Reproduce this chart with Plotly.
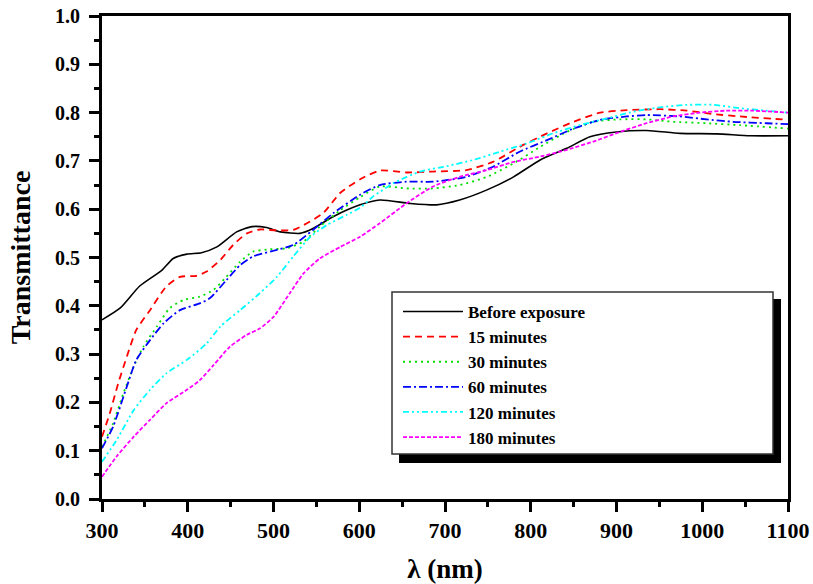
import plotly.graph_objects as go

# ---------------- data ----------------
wl_before = [300, 321, 344, 370, 383, 399, 416, 434, 457, 475, 492, 508, 531, 546, 570, 601,
             624, 659, 690, 717, 749, 780, 811, 842, 869, 900, 935, 974, 1017, 1056, 1100]
t_before = [0.371, 0.395, 0.441, 0.474, 0.498, 0.507, 0.510, 0.522, 0.553, 0.564, 0.562, 0.553,
            0.550, 0.560, 0.585, 0.609, 0.619, 0.612, 0.609, 0.619, 0.640, 0.667, 0.702, 0.726,
            0.750, 0.760, 0.763, 0.757, 0.756, 0.752, 0.752]

wl_15 = [300, 309, 319, 329, 340, 356, 375, 391, 410, 422, 438, 453, 469, 484, 504, 523, 539,
         558, 578, 601, 624, 655, 686, 725, 756, 787, 819, 850, 881, 912, 951, 982, 1013, 1044, 1100]
t_15 = [0.129, 0.177, 0.240, 0.295, 0.350, 0.391, 0.440, 0.460, 0.462, 0.471, 0.495, 0.526,
        0.550, 0.558, 0.556, 0.557, 0.571, 0.592, 0.634, 0.662, 0.680, 0.676, 0.678, 0.681,
        0.698, 0.729, 0.757, 0.781, 0.800, 0.805, 0.807, 0.804, 0.797, 0.792, 0.785]

wl_30 = [300, 313, 325, 337, 348, 364, 379, 395, 414, 430, 445, 461, 476, 496, 515, 535, 554,
         578, 601, 624, 655, 686, 717, 749, 780, 811, 842, 873, 904, 935, 966, 1005, 1044, 1100]
t_30 = [0.108, 0.157, 0.219, 0.274, 0.315, 0.357, 0.395, 0.412, 0.419, 0.433, 0.460, 0.491,
        0.512, 0.517, 0.519, 0.533, 0.564, 0.598, 0.625, 0.647, 0.643, 0.643, 0.650, 0.667,
        0.695, 0.729, 0.760, 0.781, 0.786, 0.786, 0.781, 0.778, 0.774, 0.767]

wl_60 = [300, 313, 329, 340, 356, 372, 391, 414, 426, 445, 461, 476, 500, 523, 546, 570, 601,
         624, 655, 686, 725, 756, 787, 819, 850, 881, 912, 935, 974, 1005, 1036, 1075, 1100]
t_60 = [0.105, 0.150, 0.233, 0.288, 0.329, 0.364, 0.391, 0.405, 0.416, 0.453, 0.484, 0.502,
        0.514, 0.526, 0.557, 0.592, 0.630, 0.650, 0.657, 0.657, 0.667, 0.688, 0.719, 0.743,
        0.767, 0.785, 0.792, 0.795, 0.792, 0.786, 0.781, 0.778, 0.776]

wl_120 = [300, 317, 337, 356, 375, 399, 422, 438, 461, 484, 504, 523, 543, 562, 585, 601, 616,
          640, 671, 702, 733, 764, 795, 826, 857, 889, 920, 951, 982, 1013, 1044, 1075, 1100]
t_120 = [0.077, 0.122, 0.184, 0.226, 0.260, 0.288, 0.322, 0.357, 0.391, 0.426, 0.460, 0.502,
         0.543, 0.567, 0.588, 0.603, 0.626, 0.654, 0.678, 0.689, 0.702, 0.719, 0.736, 0.757,
         0.774, 0.788, 0.802, 0.811, 0.816, 0.816, 0.809, 0.804, 0.800]

wl_180 = [300, 317, 337, 356, 375, 399, 414, 430, 449, 469, 484, 500, 519, 535, 554, 578, 601,
          624, 655, 686, 717, 749, 780, 811, 842, 873, 904, 935, 966, 997, 1028, 1059, 1100]
t_180 = [0.046, 0.088, 0.129, 0.164, 0.198, 0.226, 0.246, 0.277, 0.315, 0.340, 0.353, 0.377,
         0.426, 0.467, 0.498, 0.522, 0.543, 0.571, 0.612, 0.647, 0.667, 0.681, 0.698, 0.709,
         0.723, 0.740, 0.760, 0.778, 0.792, 0.800, 0.804, 0.804, 0.800]

names = ["Before exposure", "15 minutes", "30 minutes", "60 minutes", "120 minutes", "180 minutes"]
series_x = [wl_before, wl_15, wl_30, wl_60, wl_120, wl_180]
series_y = [t_before, t_15, t_30, t_60, t_120, t_180]
colors = ["#000000", "#FF0000", "#00E000", "#0000FF", "#00FFFF", "#FF00FF"]
dashes = ["solid", "7px,5px", "2px,4px", "8px,3px,2px,3px", "6px,3px,2px,3px,2px,3px", "4px,2px"]

x_ticks = [300, 400, 500, 600, 700, 800, 900, 1000, 1100]
y_ticks = [0.0, 0.1, 0.2, 0.3, 0.4, 0.5, 0.6, 0.7, 0.8, 0.9, 1.0]

FONT = "Liberation Serif"

fig = go.Figure()
for xs, ys, nm, c, d in zip(series_x, series_y, names, colors, dashes):
    fig.add_trace(go.Scatter(
        x=xs, y=ys, name=nm, mode="lines",
        line=dict(color=c, width=1.6 if nm == "Before exposure" else 1.8, dash=d, shape="spline", smoothing=0.6),
    ))

W, H = 813, 584
ml, mr, mt, mb = 102, 25, 16, 85
pw, ph = W - ml - mr, H - mt - mb


def px_x(p):
    return (p - ml) / pw


def px_y(p):
    return (H - mb - p) / ph


# legend box with drop shadow
fig.add_shape(type="rect", xref="paper", yref="paper",
              x0=px_x(399), x1=px_x(781), y0=px_y(463), y1=px_y(299),
              fillcolor="black", line=dict(width=0), layer="below")
fig.add_shape(type="rect", xref="paper", yref="paper",
              x0=px_x(392), x1=px_x(773), y0=px_y(454), y1=px_y(292),
              fillcolor="white", line=dict(color="#333333", width=1.5), layer="below")

fig.update_layout(
    width=W, height=H,
    margin=dict(l=ml, r=mr, t=mt, b=mb, autoexpand=False),
    paper_bgcolor="white", plot_bgcolor="rgba(0,0,0,0)",
    font=dict(family=FONT, color="black"),
    showlegend=True,
    legend=dict(
        x=px_x(398), y=px_y(294), xanchor="left", yanchor="top",
        bgcolor="rgba(0,0,0,0)", borderwidth=0,
        font=dict(family=FONT, size=17, weight="bold", color="black"),
        itemwidth=60, tracegroupgap=0,
    ),
    xaxis=dict(
        range=[300, 1100], tickvals=x_ticks, ticktext=[str(v) for v in x_ticks],
        showline=True, linewidth=3, linecolor="black", mirror=True,
        ticks="outside", ticklen=10, tickwidth=3, tickcolor="black",
        minor=dict(dtick=50, ticks="outside", ticklen=5, tickwidth=2.5, tickcolor="black"),
        showgrid=False, zeroline=False, automargin=False,
        tickfont=dict(family=FONT, size=22, weight="bold"),
        title=dict(text="λ (nm)", font=dict(family=FONT, size=27, weight="bold"), standoff=26),
    ),
    yaxis=dict(
        range=[0, 1.0], tickvals=y_ticks, ticktext=[f"{v:.1f}" for v in y_ticks],
        showline=True, linewidth=3, linecolor="black", mirror=True,
        ticks="outside", ticklen=10, tickwidth=3, tickcolor="black",
        minor=dict(dtick=0.05, ticks="outside", ticklen=5, tickwidth=2.5, tickcolor="black"),
        showgrid=False, zeroline=False, automargin=False,
        tickfont=dict(family=FONT, size=20, weight="bold"),
        ticklabelstandoff=5,
        title=dict(text="Transmittance", font=dict(family=FONT, size=28, weight="bold"), standoff=17),
    ),
)

fig.write_html("out.html")
